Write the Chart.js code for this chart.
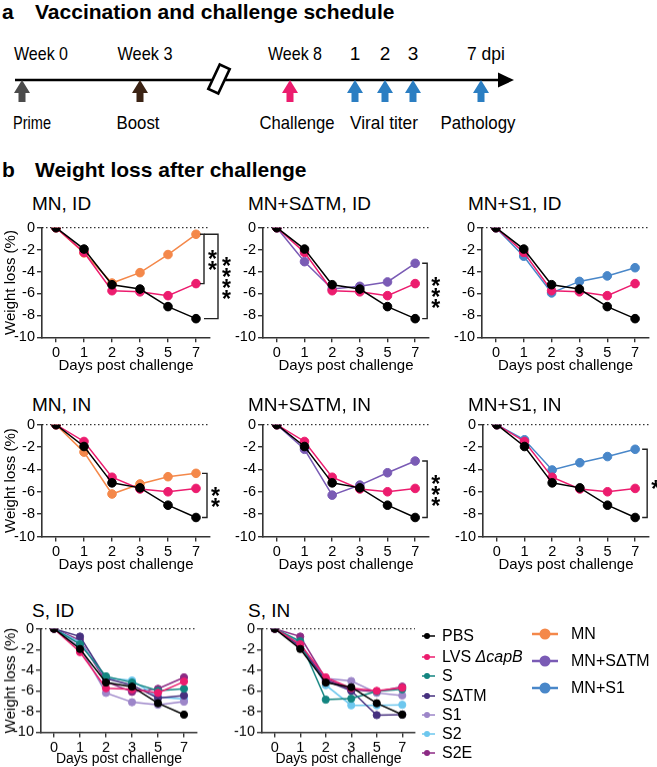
<!DOCTYPE html>
<html>
<head>
<meta charset="utf-8">
<script src="https://cdn.jsdelivr.net/npm/chart.js@4.4.1/dist/chart.umd.min.js"></script>
<style>
body { margin: 0; background: #fff; }
#page { position: relative; width: 657px; height: 767px; overflow: hidden; font-family: 'Liberation Sans', Arial, sans-serif; color: #000; }
.lbl { position: absolute; white-space: nowrap; line-height: 1; transform: translateY(-50%); }
.head { font-weight: bold; font-size: 21px; }
.ptitle { font-size: 19px; }
.leg { font-size: 16px; }
.box { position: absolute; }
</style>
</head>
<body>
<div id="page"></div>
<script>
// --- datos ---
const days = ['0', '1', '2', '3', '5', '7'];

// ID
const pbsID = [0, -1.95, -5.2, -5.6, -7.2, -8.3];
const lvsID = [0, -2.25, -5.75, -5.85, -6.2, -5.1];
const mnID = [0, -2.3, -5.05, -4.1, -2.45, -0.6];
const mnSdtmID = [0, -3.1, -5.6, -5.35, -4.95, -3.25];
const mnS1ID = [0, -2.6, -5.95, -4.9, -4.4, -3.65];
const sID = [0, -1.5, -4.6, -5.2, -6.0, -5.8];
const sdtmID = [0, -0.75, -4.8, -5.45, -6.7, -6.45];
const s1ID = [0, -1.8, -6.2, -7.1, -7.35, -7.05];
const s2ID = [0, -1.3, -4.75, -5.0, -6.6, -6.8];
const s2eID = [0, -1.1, -5.1, -6.1, -5.8, -4.7];

// IN
const pbsIN = [0, -1.95, -5.2, -5.65, -7.2, -8.3];
const lvsIN = [0, -1.5, -4.7, -5.75, -6.0, -5.7];
const mnIN = [0, -2.45, -6.2, -5.3, -4.65, -4.35];
const mnSdtmIN = [0, -2.2, -6.3, -5.4, -4.3, -3.25];
const mnS1IN = [0, -1.35, -4.05, -3.4, -2.85, -2.2];
const sIN = [0, -1.2, -6.85, -6.75, -6.05, -5.85];
const sdtmIN = [0, -1.7, -5.0, -6.0, -8.35, -8.3];
const s1IN = [0, -1.8, -4.8, -5.05, -6.2, -6.45];
const s2IN = [0, -1.35, -5.45, -7.4, -7.4, -7.35];
const s2eIN = [0, -0.75, -4.85, -5.9, -6.1, -5.6];

// cronograma
const schedTop = ['Week 0', 'Week 3', 'Week 8', '1', '2', '3', '7 dpi'];
const schedBottom = ['Prime', 'Boost', 'Challenge', 'Viral titer', 'Pathology'];

const legendLeft = ['PBS', 'LVS', 'S', 'SdTM', 'S1', 'S2', 'S2E'];
const legendRight = ['MN', 'MNSdTM', 'MNS1'];
const legendText = {
    PBS: 'PBS', LVS: 'LVS <i>ΔcapB</i>', S: 'S', SdTM: 'SΔTM', S1: 'S1', S2: 'S2', S2E: 'S2E',
    MN: 'MN', MNSdTM: 'MN+SΔTM', MNS1: 'MN+S1'
};

// --- estilos y posiciones ---
const colors = {
    PBS: '#000000', LVS: '#ec1c6e', MN: '#f4884a', MNSdTM: '#7a5bb5', MNS1: '#4987c9',
    S: '#138580', SdTM: '#46307f', S1: '#9d86c9', S2: '#6dc7ee', S2E: '#8c2a84'
};

const page = document.getElementById('page');
Chart.defaults.font.family = "'Liberation Sans', Arial, sans-serif";
Chart.defaults.color = '#000';

function addLabel(text, x, y, cls) {
    const d = document.createElement('div');
    d.className = 'lbl ' + cls;
    d.style.left = x + 'px';
    d.style.top = y + 'px';
    d.innerHTML = text;
    page.appendChild(d);
}

// --- panel a: cronograma ---
const SVGNS = 'http://www.w3.org/2000/svg';
function svgEl(tag, attrs, parent) {
    const e = document.createElementNS(SVGNS, tag);
    for (const k in attrs) e.setAttribute(k, attrs[k]);
    if (parent) parent.appendChild(e);
    return e;
}
const sched = svgEl('svg', { width: 657, height: 140 });
sched.style.cssText = 'position:absolute;left:0;top:0';
page.appendChild(sched);

svgEl('line', { x1: 15, y1: 80, x2: 502, y2: 80, stroke: '#000', 'stroke-width': 2.6 }, sched);
svgEl('polygon', { points: '498,72.5 514,80 498,87.5', fill: '#000' }, sched);
svgEl('rect', { x: -5.5, y: -13.5, width: 11, height: 27, fill: '#fff', stroke: '#000', 'stroke-width': 2.6,
    transform: 'translate(219,79) rotate(25)' }, sched);

const arrowX = [22, 140, 290, 355, 385, 413, 481];
const arrowColors = ['#4b4b4b', '#3b2314', '#ec1c6e', '#2b7ec2', '#2b7ec2', '#2b7ec2', '#2b7ec2'];
arrowX.forEach((cx, i) => {
    const d = `M${cx},80 L${cx + 8},93 L${cx + 3.5},93 L${cx + 3.5},102 L${cx - 3.5},102 L${cx - 3.5},93 L${cx - 8},93 Z`;
    svgEl('path', { d: d, fill: arrowColors[i] }, sched);
});
const topX = [41, 145, 295, 355, 385, 413, 486];
const topW = [54, 55, 54, 0, 0, 0, 38];
schedTop.forEach((t, i) => {
    const a = { x: topX[i], y: 60, 'text-anchor': 'middle', 'font-size': 19,
        'font-family': "'Liberation Sans', Arial, sans-serif" };
    if (topW[i]) { a.textLength = topW[i]; a.lengthAdjust = 'spacingAndGlyphs'; }
    const e = svgEl('text', a, sched);
    e.textContent = t;
});
const bottomX = [32, 138, 297, 384, 478];
const bottomW = [38, 43, 75, 68, 75];
schedBottom.forEach((t, i) => {
    const e = svgEl('text', { x: bottomX[i], y: 129, 'text-anchor': 'middle', 'font-size': 19,
        textLength: bottomW[i], lengthAdjust: 'spacingAndGlyphs',
        'font-family': "'Liberation Sans', Arial, sans-serif" }, sched);
    e.textContent = t;
});

addLabel('a', 2, 10.5, 'head');
addLabel('Vaccination and challenge schedule', 35, 10.5, 'head');
addLabel('b', 2, 168.5, 'head');
addLabel('Weight loss after challenge', 35, 168.5, 'head');

// --- plugins ---
const zeroLine = {
    id: 'zeroLine',
    beforeDatasetsDraw(chart) {
        const { ctx, chartArea: a, scales: { y } } = chart;
        const py = y.getPixelForValue(0);
        ctx.save();
        ctx.setLineDash([1.5, 2.5]);
        ctx.strokeStyle = '#000';
        ctx.lineWidth = 1;
        ctx.beginPath();
        ctx.moveTo(a.left, py);
        ctx.lineTo(a.right, py);
        ctx.stroke();
        ctx.restore();
    }
};

const brackets = {
    id: 'brackets',
    afterDraw(chart, args, opts) {
        const list = opts.list || [];
        const { ctx, scales: { x, y } } = chart;
        const lx = x.getPixelForValue(5);
        list.forEach(br => {
            const ya = y.getPixelForValue(br.from[5]);
            const yb = y.getPixelForValue(br.to[5]);
            const xv = lx + br.dx;
            const xa = lx + br.arm;
            ctx.save();
            ctx.strokeStyle = '#222';
            ctx.lineWidth = 1.4;
            ctx.beginPath();
            ctx.moveTo(xa, ya);
            ctx.lineTo(xv, ya);
            ctx.lineTo(xv, yb);
            ctx.lineTo(xa, yb);
            ctx.stroke();
            ctx.fillStyle = '#000';
            ctx.font = "bold 23px 'Liberation Sans', Arial, sans-serif";
            ctx.textAlign = 'center';
            ctx.textBaseline = 'alphabetic';
            const n = br.stars.length;
            const mid = (ya + yb) / 2;
            for (let i = 0; i < n; i++) {
                const cy = mid + (i - (n - 1) / 2) * 11;
                ctx.fillText('*', xv + 8.5, cy + 14);
            }
            ctx.restore();
        });
    }
};

// --- paneles ---
const panels = [
    { title: 'MN, ID', tx: 32, ty: 203, box: [42, 227, 210, 337.3], yw: 42, pr: 30, xh: 38, r: 4.3, yTitle: true,
      series: [['PBS', pbsID], ['LVS', lvsID], ['MN', mnID]],
      sig: [{ from: mnID, to: lvsID, stars: '**', dx: 8, arm: 4 }, { from: mnID, to: pbsID, stars: '****', dx: 22, arm: 8 }] },
    { title: 'MN+SΔTM, ID', tx: 248, ty: 203, box: [263, 227, 429, 337.3], yw: 40, pr: 30, xh: 38, r: 4.3,
      series: [['PBS', pbsID], ['LVS', lvsID], ['MNSdTM', mnSdtmID]],
      sig: [{ from: mnSdtmID, to: pbsID, stars: '***', dx: 12, arm: 7 }] },
    { title: 'MN+S1, ID', tx: 468, ty: 203, box: [482, 227, 649, 337.3], yw: 40, pr: 8, xh: 38, r: 4.3,
      series: [['PBS', pbsID], ['LVS', lvsID], ['MNS1', mnS1ID]], sig: [] },

    { title: 'MN, IN', tx: 32, ty: 404, box: [42, 423.5, 210, 536], yw: 42, pr: 30, xh: 37.5, r: 4.3, yTitle: true,
      series: [['PBS', pbsIN], ['LVS', lvsIN], ['MN', mnIN]],
      sig: [{ from: mnIN, to: pbsIN, stars: '**', dx: 11, arm: 6 }] },
    { title: 'MN+SΔTM, IN', tx: 248, ty: 404, box: [263, 423.5, 429, 536], yw: 40, pr: 30, xh: 37.5, r: 4.3,
      series: [['PBS', pbsIN], ['LVS', lvsIN], ['MNSdTM', mnSdtmIN]],
      sig: [{ from: mnSdtmIN, to: pbsIN, stars: '***', dx: 12, arm: 7 }] },
    { title: 'MN+S1, IN', tx: 468, ty: 404, box: [483, 423.5, 649, 536], yw: 40, pr: 8, xh: 37.5, r: 4.3,
      series: [['PBS', pbsIN], ['LVS', lvsIN], ['MNS1', mnS1IN]],
      sig: [{ from: mnS1IN, to: pbsIN, stars: '*', dx: 12, arm: 7 }] },

    { title: 'S, ID', tx: 32, ty: 610, box: [41, 628.3, 197, 731.7], yw: 41, pr: 10, xh: 35, r: 3.6, yTitle: true, small: true,
      series: [['PBS', pbsID], ['LVS', lvsID], ['S', sID], ['SdTM', sdtmID], ['S1', s1ID], ['S2', s2ID], ['S2E', s2eID]], sig: [] },
    { title: 'S, IN', tx: 248, ty: 610, box: [262, 628.3, 415, 731.7], yw: 40, pr: 5, xh: 35, r: 3.6, small: true,
      series: [['PBS', pbsIN], ['LVS', lvsIN], ['S', sIN], ['SdTM', sdtmIN], ['S1', s1IN], ['S2', s2IN], ['S2E', s2eIN]], sig: [] }
];

const PT = 10;
panels.forEach(p => {
    const [l, t, r, b] = p.box;
    addLabel(p.title, p.tx, p.ty, 'ptitle');

    const div = document.createElement('div');
    div.className = 'box';
    div.style.left = (l - p.yw) + 'px';
    div.style.top = (t - PT) + 'px';
    div.style.width = (r - l + p.yw + p.pr) + 'px';
    div.style.height = (b - t + PT + p.xh) + 'px';
    const cv = document.createElement('canvas');
    div.appendChild(cv);
    page.appendChild(div);

    const axisGrid = { display: true, drawOnChartArea: false, drawTicks: true, tickLength: 5, color: '#333', lineWidth: 1.4 };
    const axisBorder = { display: true, color: '#333', width: 1.6 };
    const titleSize = p.small ? 14 : 15;

    new Chart(cv, {
        type: 'line',
        data: {
            labels: days,
            datasets: p.series.map(([key, vals]) => ({
                label: key,
                data: vals,
                borderColor: colors[key],
                backgroundColor: colors[key],
                pointBackgroundColor: colors[key],
                pointBorderColor: colors[key],
                borderWidth: 1.5,
                pointRadius: p.r,
                pointBorderWidth: 1,
                tension: 0
            }))
        },
        options: {
            responsive: true,
            maintainAspectRatio: false,
            animation: false,
            layout: { padding: { top: PT, right: p.pr, left: 0, bottom: 0 } },
            plugins: {
                legend: { display: false },
                tooltip: { enabled: false },
                brackets: { list: p.sig }
            },
            scales: {
                x: {
                    type: 'category',
                    offset: true,
                    grid: axisGrid,
                    border: axisBorder,
                    ticks: { font: { size: 14.5 }, padding: 2, maxRotation: 0, autoSkip: false, color: '#000' },
                    title: { display: true, text: 'Days post challenge', font: { size: titleSize }, padding: { top: 0, bottom: 0 }, color: '#000' },
                    afterFit(s) { s.height = p.xh; }
                },
                y: {
                    min: -10,
                    max: 0,
                    grid: axisGrid,
                    border: axisBorder,
                    ticks: { stepSize: 2, font: { size: 14.5 }, padding: 2, color: '#000' },
                    title: { display: !!p.yTitle, text: 'Weight loss (%)', font: { size: 15 }, padding: { top: 2, bottom: 0 }, color: '#000' },
                    afterFit(s) { s.width = p.yw; }
                }
            }
        },
        plugins: [zeroLine, brackets]
    });
});

// --- leyenda ---
const leg = svgEl('svg', { width: 657, height: 767 });
leg.style.cssText = 'position:absolute;left:0;top:0;pointer-events:none';
page.appendChild(leg);

const legLeftY = [636, 657, 676, 696, 715, 734, 753];
legendLeft.forEach((key, i) => {
    const y = legLeftY[i];
    svgEl('line', { x1: 422, y1: y, x2: 435, y2: y, stroke: colors[key], 'stroke-width': 1.5 }, leg);
    svgEl('circle', { cx: 427, cy: y, r: 3, fill: colors[key] }, leg);
    addLabel(legendText[key], 442, y, 'leg');
});
const legRightY = [634, 661, 688];
legendRight.forEach((key, i) => {
    const y = legRightY[i];
    svgEl('line', { x1: 532, y1: y, x2: 558, y2: y, stroke: colors[key], 'stroke-width': 2.5 }, leg);
    svgEl('circle', { cx: 545, cy: y, r: 5.5, fill: colors[key] }, leg);
    addLabel(legendText[key], 571, y, 'leg');
});
</script>
</body>
</html>
